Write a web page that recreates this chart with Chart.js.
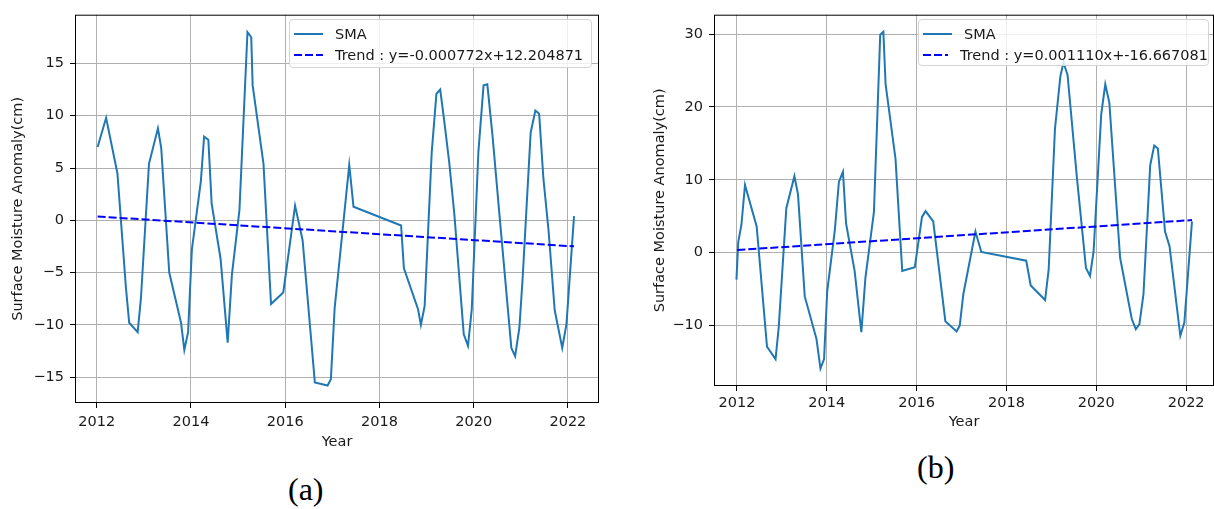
<!DOCTYPE html>
<html lang="en">
<head>
<meta charset="UTF-8">
<title>Surface Moisture Anomaly</title>
<style>
    body { margin: 0; background: #fff; font-family: "DejaVu Sans", sans-serif; }
    #page { position: relative; width: 1214px; height: 509px; overflow: hidden; }
    canvas { position: absolute; top: 0; }
    #chartA { left: 0; }
    #chartB { left: 640px; }
    .legend {
        position: absolute;
        box-sizing: border-box;
        border: 1px solid #d4d4d4;
        border-radius: 4px;
        background: rgba(255, 255, 255, 0.8);
        font-size: 14.5px;
        color: #1a1a1a;
        padding: 3px 0 0 4px;
    }
    .legend .row { display: flex; align-items: center; height: 21px; white-space: nowrap; }
    .legend .swatch { width: 29px; height: 2px; margin-right: 12px; background: #1f77b4; }
    .legend .swatch.dash { background: repeating-linear-gradient(to right, #0000ff 0 8px, transparent 8px 11px); }
    .panel-label { position: absolute; font-family: "Liberation Serif", "Times New Roman", serif; font-size: 32px; line-height: 32px; color: #000; }
</style>
</head>
<body>
<div id="page">
    <canvas id="chartA" width="610" height="460"></canvas>
    <canvas id="chartB" width="574" height="440"></canvas>

    <div class="legend" style="left:289px; top:19px; width:303px; height:49px;">
        <div class="row"><span class="swatch"></span>SMA</div>
        <div class="row"><span class="swatch dash"></span>Trend : y=-0.000772x+12.204871</div>
    </div>
    <div class="legend" style="left:918px; top:19px; width:291px; height:47px;">
        <div class="row"><span class="swatch"></span>SMA</div>
        <div class="row"><span class="swatch dash"></span>Trend : y=0.001110x+-16.667081</div>
    </div>

    <div class="panel-label" style="left:288px; top:473px;">(a)</div>
    <div class="panel-label" style="left:917px; top:451px;">(b)</div>
</div>

<script src="https://cdn.jsdelivr.net/npm/chart.js"></script>
<script>
    // panel (a)
    const yearsA = [2012.02, 2012.20, 2012.44, 2012.62, 2012.69, 2012.87, 2012.94, 2013.11, 2013.30, 2013.37,
        2013.54, 2013.79, 2013.86, 2013.94, 2014.02, 2014.21, 2014.28, 2014.37, 2014.44, 2014.63,
        2014.78, 2014.87, 2015.03, 2015.20, 2015.28, 2015.31, 2015.54, 2015.70, 2015.96, 2016.21,
        2016.37, 2016.63, 2016.90, 2016.97, 2017.05, 2017.36, 2017.45, 2018.46, 2018.52, 2018.82,
        2018.88, 2018.96, 2019.11, 2019.21, 2019.29, 2019.37, 2019.48, 2019.59, 2019.79, 2019.88,
        2019.96, 2020.10, 2020.21, 2020.29, 2020.40, 2020.56, 2020.80, 2020.88, 2020.97, 2021.04,
        2021.21, 2021.31, 2021.39, 2021.48, 2021.59, 2021.72, 2021.88, 2021.97, 2022.13];
    const smaA = [7.0, 9.8, 4.5, -6.4, -9.8, -10.7, -7.4, 5.4, 8.8, 6.9,
        -5.0, -9.8, -12.4, -10.7, -2.8, 3.7, 8.0, 7.7, 1.6, -3.7,
        -11.7, -5.2, 1.0, 18.0, 17.5, 12.9, 5.4, -8.0, -6.9, 1.4,
        -1.9, -15.5, -15.8, -15.2, -8.4, 5.3, 1.3, -0.5, -4.6, -8.5,
        -10.0, -8.2, 6.5, 12.1, 12.5, 9.7, 5.6, 0.6, -10.9, -12.0,
        -8.5, 6.5, 12.9, 13.0, 8.1, -0.1, -12.2, -13.0, -10.3, -5.5,
        8.4, 10.5, 10.2, 4.0, -1.0, -8.6, -12.2, -9.9, 0.4];
    const trendXA = [2012.02, 2022.13];
    const trendYA = [0.36, -2.49];
    const yTicksA = [-15, -10, -5, 0, 5, 10, 15];

    // panel (b)
    const yearsB = [2011.99, 2012.03, 2012.10, 2012.18, 2012.44, 2012.67, 2012.86, 2012.93, 2013.10, 2013.28,
        2013.36, 2013.51, 2013.77, 2013.86, 2013.94, 2014.01, 2014.18, 2014.27, 2014.36, 2014.43,
        2014.62, 2014.77, 2014.86, 2015.05, 2015.19, 2015.26, 2015.31, 2015.53, 2015.68, 2015.96,
        2016.12, 2016.20, 2016.37, 2016.64, 2016.89, 2016.96, 2017.04, 2017.31, 2017.44, 2018.44,
        2018.54, 2018.86, 2018.94, 2019.08, 2019.20, 2019.27, 2019.36, 2019.57, 2019.77, 2019.86,
        2019.94, 2020.11, 2020.20, 2020.29, 2020.53, 2020.79, 2020.88, 2020.96, 2021.05, 2021.20,
        2021.29, 2021.37, 2021.53, 2021.63, 2021.87, 2021.96, 2022.13];
    const smaB = [-3.7, 1.5, 3.8, 9.3, 3.6, -12.9, -14.6, -10.3, 6.1, 10.5,
        8.0, -6.0, -11.8, -15.9, -14.6, -5.3, 3.1, 9.7, 11.1, 4.0,
        -2.5, -10.9, -3.5, 5.6, 29.9, 30.3, 23.1, 12.9, -2.5, -2.0,
        4.9, 5.7, 4.3, -9.4, -10.8, -10.0, -5.7, 2.9, 0.1, -1.1,
        -4.5, -6.5, -2.3, 17.0, 24.2, 26.1, 24.4, 10.2, -2.1, -3.2,
        0.2, 19.0, 23.1, 20.6, -0.7, -9.1, -10.5, -9.8, -5.7, 12.0,
        14.7, 14.3, 2.9, 0.9, -11.4, -9.6, 4.3];
    const trendXB = [2012.01, 2022.13];
    const trendYB = [0.36, 4.47];
    const yTicksB = [-10, 0, 10, 20, 30];

    const xTicks = [2012, 2014, 2016, 2018, 2020, 2022];

    const toPoints = (xs, ys) => xs.map((x, i) => ({ x: x, y: ys[i] }));
    const minusFmt = v => (v < 0 ? '\u2212' + Math.abs(v) : String(v));

    // full box around the plot area, like matplotlib spines
    const framePlugin = {
        id: 'frame',
        afterDatasetsDraw(chart) {
            const a = chart.chartArea;
            const c = chart.ctx;
            c.save();
            c.strokeStyle = '#000';
            c.lineWidth = 1;
            c.strokeRect(a.left + 0.5, a.top + 0.5, a.right - a.left - 1, a.bottom - a.top - 1);
            c.restore();
        }
    };

    function makeChart(id, opts) {
        const font = { family: 'DejaVu Sans', size: 14.5 };
        return new Chart(document.getElementById(id), {
            type: 'line',
            data: {
                datasets: [
                    {
                        label: 'Trend',
                        data: opts.trend,
                        borderColor: '#0000ff',
                        borderWidth: 2,
                        borderDash: [8, 3],
                        pointRadius: 0,
                        order: 0
                    },
                    {
                        label: 'SMA',
                        data: opts.sma,
                        borderColor: '#1f77b4',
                        borderWidth: 2,
                        pointRadius: 0,
                        tension: 0,
                        order: 1
                    }
                ]
            },
            plugins: [framePlugin],
            options: {
                responsive: false,
                animation: false,
                layout: { padding: opts.padding },
                plugins: { legend: { display: false }, tooltip: { enabled: false } },
                scales: {
                    x: {
                        type: 'linear',
                        min: opts.xMin,
                        max: opts.xMax,
                        afterBuildTicks: s => { s.ticks = xTicks.map(v => ({ value: v })); },
                        afterFit: s => { s.height = opts.xAxisH; },
                        grid: { color: '#b0b0b0', lineWidth: 1, tickColor: '#000', tickLength: 5 },
                        border: { display: false },
                        ticks: { color: '#1a1a1a', font: font, padding: opts.xTickPad, maxRotation: 0, callback: v => String(v) },
                        title: { display: true, text: 'Year', color: '#1a1a1a', font: font, padding: { top: 0, bottom: opts.xTitlePad } }
                    },
                    y: {
                        min: opts.yMin,
                        max: opts.yMax,
                        afterBuildTicks: s => { s.ticks = opts.yTicks.map(v => ({ value: v })); },
                        afterFit: s => { s.width = opts.yAxisW; },
                        grid: { color: '#b0b0b0', lineWidth: 1, tickColor: '#000', tickLength: 5 },
                        border: { display: false },
                        ticks: { color: '#1a1a1a', font: font, padding: 6, callback: minusFmt },
                        title: { display: true, text: 'Surface Moisture Anomaly(cm)', color: '#1a1a1a', font: font, padding: { top: opts.yTitlePad, bottom: 0 } }
                    }
                }
            }
        });
    }

    makeChart('chartA', {
        sma: toPoints(yearsA, smaA),
        trend: toPoints(trendXA, trendYA),
        xMin: 2011.54, xMax: 2022.66,
        yMin: -17.47, yMax: 19.66,
        yTicks: yTicksA,
        padding: { top: 12, right: 11, left: 0, bottom: 0 },
        xAxisH: 57, yAxisW: 75,
        xTickPad: 6, xTitlePad: 9, yTitlePad: 10
    });

    makeChart('chartB', {
        sma: toPoints(yearsB, smaB),
        trend: toPoints(trendXB, trendYB),
        xMin: 2011.49, xMax: 2022.62,
        yMin: -18.29, yMax: 32.65,
        yTicks: yTicksB,
        padding: { top: 11, right: 0, left: 0, bottom: 0 },
        xAxisH: 54, yAxisW: 74,
        xTickPad: 4, xTitlePad: 9, yTitlePad: 12
    });
</script>
</body>
</html>
